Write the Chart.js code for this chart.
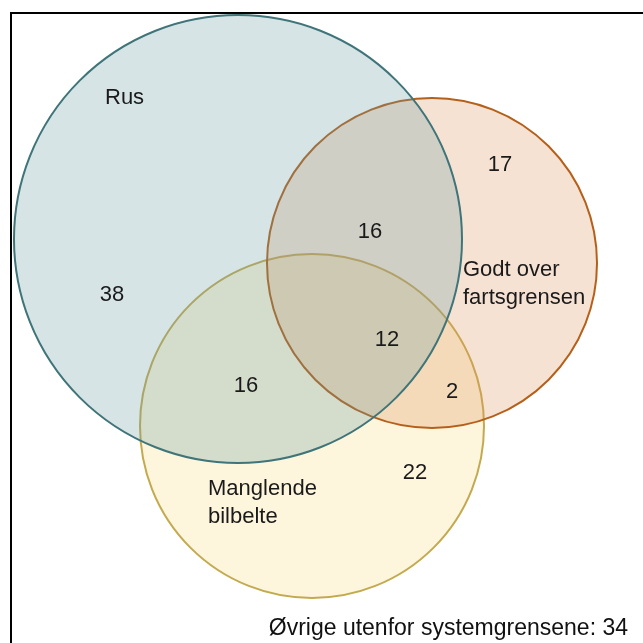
<!DOCTYPE html>
<html>
<head>
<meta charset="utf-8">
<script src="https://cdn.jsdelivr.net/npm/chart.js@4"></script>
<style>
  html, body { margin: 0; padding: 0; background: #fff; }
  #wrap { width: 643px; height: 643px; }
</style>
</head>
<body>
<div id="wrap"><canvas id="venn"></canvas></div>
<script>
// Sets (circles): centre x, centre y, radius in diagram units
const setNames = ['Rus', 'Godt over fartsgrensen', 'Manglende bilbelte'];
const setX = [238, 432, 312];
const setY = [239, 263, 426];
const setR = [224, 165, 172];

// Counts per region
const regionNames = ['Kun rus', 'Rus + fart', 'Kun fart', 'Rus + bilbelte', 'Alle tre', 'Fart + bilbelte', 'Kun bilbelte'];
const regionCounts = [38, 16, 17, 16, 12, 2, 22];
const outsideLabel = 'Øvrige utenfor systemgrensene';
const outsideCount = 34;

// where the labels sit, in the same units as the circles
const regionAnchors = [[112, 295], [370, 232], [500, 165], [246, 386], [387, 340], [452, 392], [415, 473]];
const setAnchors = [[105, 98], [463, 270], [208, 489]];
const setLines = [['Rus'], ['Godt over', 'fartsgrensen'], ['Manglende', 'bilbelte']];

// translucent fills so the overlaps mix
const fills = ['rgba(103,155,162,0.27)', 'rgba(222,148,92,0.27)', 'rgba(248,218,125,0.27)'];
const strokes = ['#3f7479', '#b5601a', '#c3aa4f'];

const font = '22px "Liberation Sans", Arial, sans-serif';

const vennPlugin = {
    id: 'venn',
    beforeDraw(chart) {
        const ctx = chart.ctx;
        ctx.save();
        ctx.fillStyle = '#fff';
        ctx.fillRect(0, 0, chart.width, chart.height);
        // frame, cut by the right and bottom edges
        ctx.strokeStyle = '#000';
        ctx.lineWidth = 2;
        ctx.strokeRect(11, 13, chart.width + 10, chart.height + 10);
        ctx.restore();
    },
    afterDatasetsDraw(chart) {
        const ctx = chart.ctx;
        const xs = chart.scales.x, ys = chart.scales.y;
        ctx.save();
        ctx.font = font;
        ctx.fillStyle = '#1a1a1a';
        ctx.textBaseline = 'middle';
        ctx.textAlign = 'center';
        regionCounts.forEach((c, i) => {
            ctx.fillText(String(c), xs.getPixelForValue(regionAnchors[i][0]), ys.getPixelForValue(regionAnchors[i][1]));
        });
        ctx.textAlign = 'left';
        setLines.forEach((lines, i) => {
            lines.forEach((t, j) => {
                ctx.fillText(t, xs.getPixelForValue(setAnchors[i][0]), ys.getPixelForValue(setAnchors[i][1]) + j * 27.5);
            });
        });
        ctx.font = '23px "Liberation Sans", Arial, sans-serif';
        ctx.textAlign = 'right';
        ctx.fillStyle = '#111';
        ctx.fillText(outsideLabel + ': ' + outsideCount, chart.chartArea.right - 15, chart.chartArea.bottom - 14);
        ctx.restore();
    }
};

new Chart(document.getElementById('venn'), {
    type: 'bubble',
    data: {
        datasets: setNames.map((name, i) => ({
            label: name,
            data: [{ x: setX[i], y: setY[i], r: setR[i] }],
            backgroundColor: fills[i],
            borderColor: strokes[i],
            borderWidth: 2,
            hoverBorderWidth: 2,
            clip: false
        }))
    },
    options: {
        responsive: true,
        maintainAspectRatio: false,
        animation: false,
        events: [],
        layout: { padding: 0, autoPadding: false },
        plugins: { legend: { display: false }, tooltip: { enabled: false } },
        scales: {
            x: { type: 'linear', min: 0, max: 643, display: false },
            y: { type: 'linear', min: 0, max: 643, reverse: true, display: false }
        }
    },
    plugins: [vennPlugin]
});
</script>
</body>
</html>
